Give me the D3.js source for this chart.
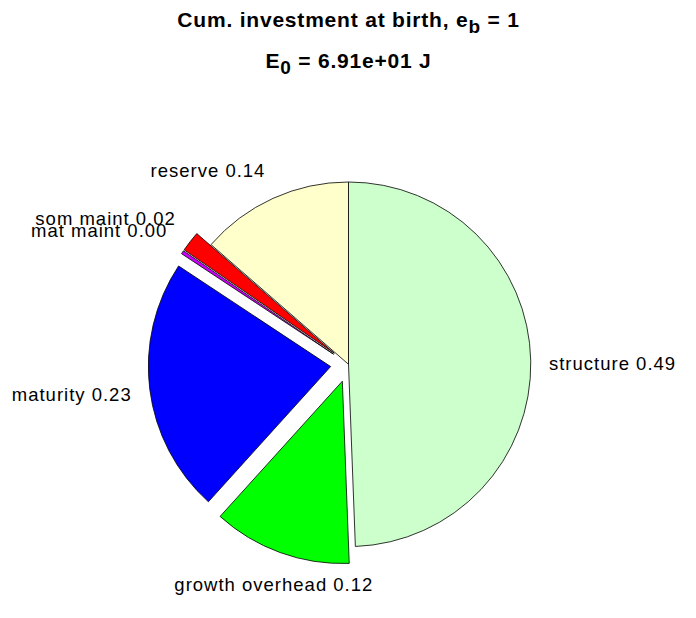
<!DOCTYPE html>
<html>
<head>
<meta charset="utf-8">
<script src="https://cdn.jsdelivr.net/npm/d3@7"></script>
<style>
  html, body { margin: 0; padding: 0; background: #fff; }
  svg { display: block; }
  text { font-family: "Liberation Sans", Arial, Helvetica, sans-serif; fill: #000; }
</style>
</head>
<body>
<svg id="chart" width="696" height="618"></svg>
<script>
// ---- data ----
const categories = ["structure", "growth overhead", "maturity", "mat maint", "som maint", "reserve"];
const fractions  = [0.494, 0.123, 0.226, 0.003, 0.018, 0.136];
const colors     = ["#CCFFCC", "#00FF00", "#0000FF", "#CC00FF", "#FF0000", "#FFFFCC"];
const exploded   = [false, true, true, true, true, false];
const titleLine1 = ["Cum. investment at birth, e", "b", " = 1"];
const titleLine2 = ["E", "0", " = 6.91e+01 J"];

// ---- layout ----
const svg = d3.select("#chart");
const cx = 348.5, cy = 364.3, R = 182.3, explodeDist = 18;

const pie = d3.pie().sort(null).value(d => d.v).startAngle(0).endAngle(2 * Math.PI);
const data = categories.map((c, i) => ({ name: c, v: fractions[i], color: colors[i], ex: exploded[i] }));
const arcs = pie(data);
const arc = d3.arc().innerRadius(0).outerRadius(R);
const fmt = d3.format(".2f");

const g = svg.append("g").attr("transform", `translate(${cx},${cy})`);

arcs.forEach(a => {
  const mid = (a.startAngle + a.endAngle) / 2;
  a.ox = a.data.ex ? explodeDist * Math.sin(mid) : 0;
  a.oy = a.data.ex ? -explodeDist * Math.cos(mid) : 0;
  a.mid = mid;
});

g.selectAll("path.slice").data(arcs).join("path")
  .attr("class", "slice")
  .attr("transform", d => `translate(${d.ox},${d.oy})`)
  .attr("d", arc)
  .attr("fill", d => d.data.color)
  .attr("stroke", "#000")
  .attr("stroke-width", 0.8)
  .attr("stroke-linejoin", "round");

// labels
g.selectAll("text.lbl").data(arcs).join("text")
  .attr("class", "lbl")
  .each(function(d) {
    const s = Math.sin(d.mid), c = Math.cos(d.mid);
    const x = d.ox + 1.1 * R * s;
    const y = d.oy - 1.1 * R * c;
    let anchor = "middle";
    if (s > 0.4) anchor = "start"; else if (s < -0.4) anchor = "end";
    let by;
    if (c > 0.4) by = y - 5;
    else if (c < -0.4) by = y + 21;
    else by = y + 9;
    d3.select(this)
      .attr("x", x).attr("y", by)
      .attr("text-anchor", anchor)
      .attr("font-size", 18.5)
      .attr("letter-spacing", 1.0)
      .text(d.data.name + " " + fmt(d.data.v));
  });

// title
function titleLine(parts, y) {
  const t = svg.append("text")
    .attr("x", cx).attr("y", y)
    .attr("text-anchor", "middle")
    .attr("font-size", 21)
    .attr("font-weight", "bold")
    .attr("letter-spacing", 0.8);
  t.append("tspan").text(parts[0]);
  t.append("tspan").attr("dy", 6).attr("font-size", 19).text(parts[1]);
  t.append("tspan").attr("dy", -6).text(parts[2]);
}
titleLine(titleLine1, 27);
titleLine(titleLine2, 68);
</script>
</body>
</html>
